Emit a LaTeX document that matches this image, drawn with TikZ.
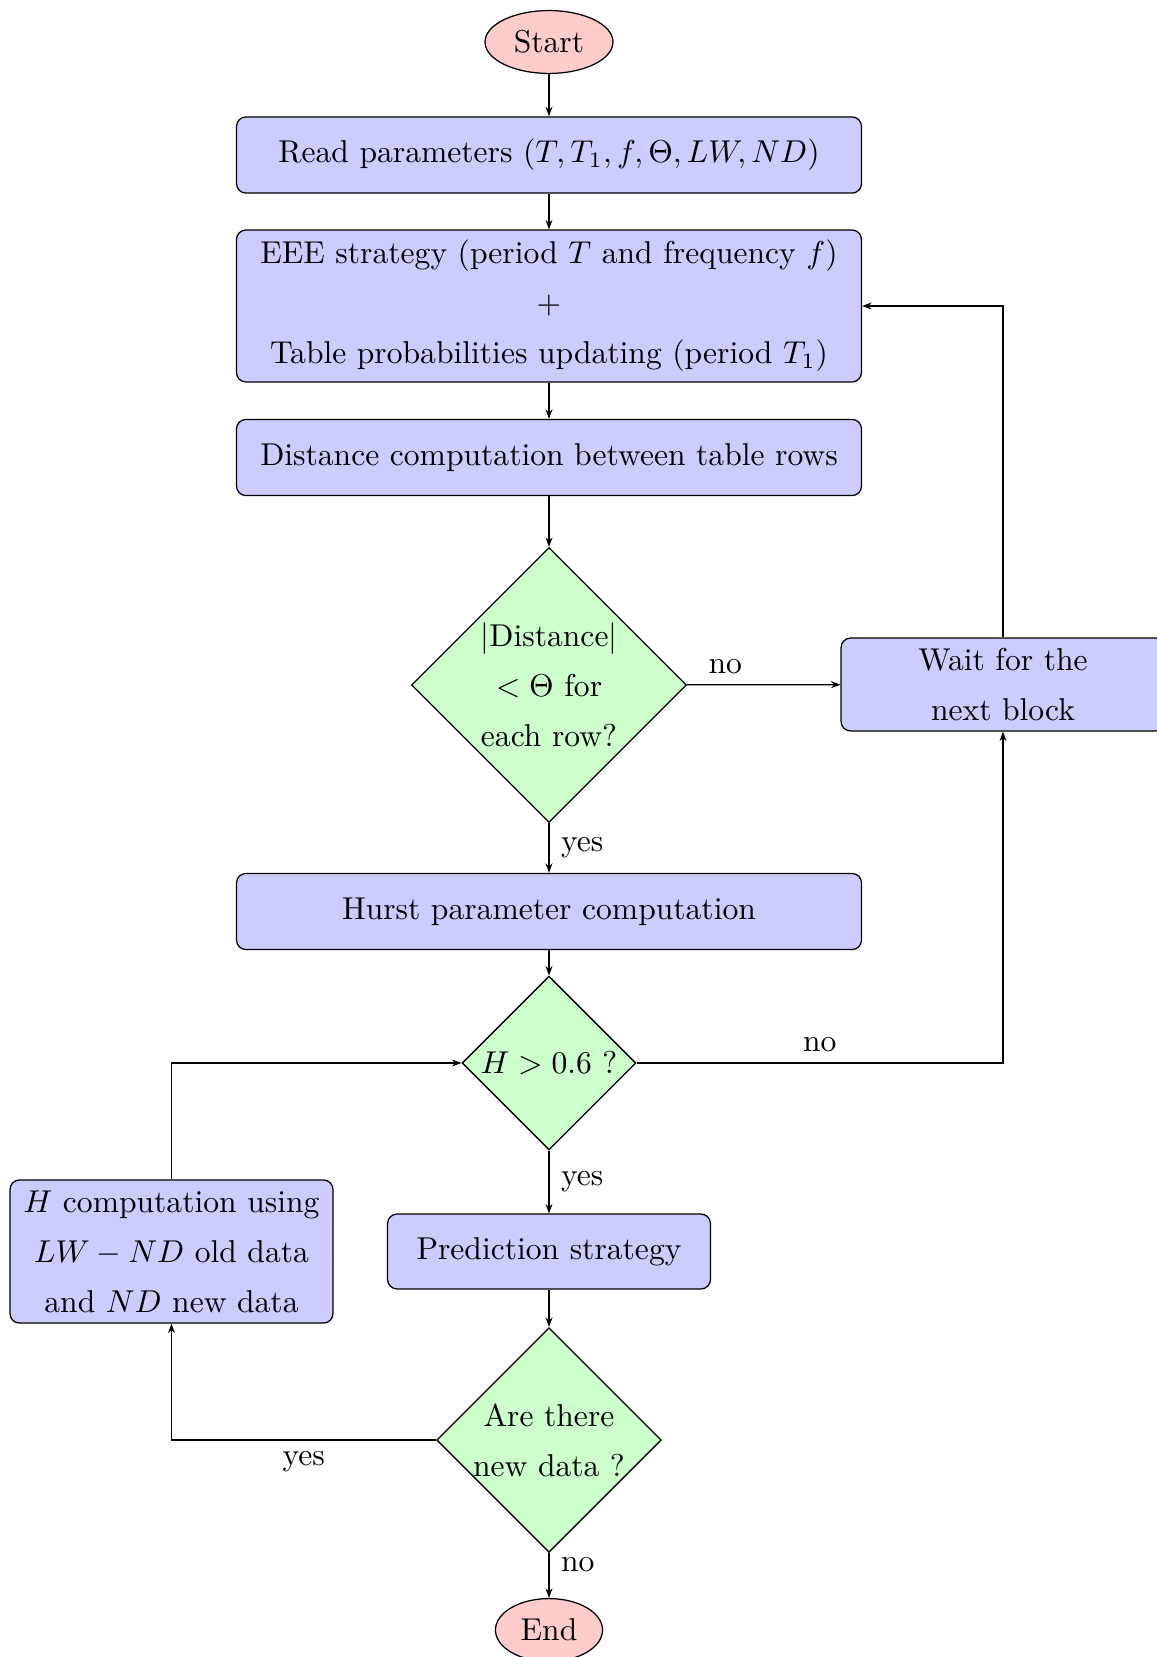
\documentclass[tikz,border=0pt]{standalone}
\usetikzlibrary{shapes.geometric,arrows.meta}
\begin{document}
\begin{tikzpicture}[x=0.3165pt,y=-0.3165pt, font=\fontsize{10}{15.8}\selectfont,
  startstop/.style={ellipse, draw, fill=red!20, minimum width=40.5pt, minimum height=19.9pt, inner sep=0pt},
  process/.style={rectangle, rounded corners=3pt, draw, fill=blue!20, align=center, inner sep=0pt},
  decision/.style={diamond, draw, fill=green!20, align=center, inner sep=0pt, aspect=1},
  arr/.style={-{Stealth[length=3pt,width=2.2pt]}},
]
\useasboundingbox (0,0) rectangle (1157,1657);
\clip (0,0) rectangle (1157,1657);
\node[startstop] (start) at (549,42) {Start};
\node[process, minimum width=197.8pt, minimum height=24.1pt] (read) at (549,155) {Read parameters $(T,T_1,f,\Theta,LW,ND)$};
\node[process, minimum width=197.8pt, minimum height=48.1pt] (eee) at (549,306) {EEE strategy (period $T$ and frequency $f$)\\ $+$ \\ Table probabilities updating (period $T_1$)};
\node[process, minimum width=197.8pt, minimum height=24.1pt] (dist) at (549,457.5) {Distance computation between table rows};
\node[decision, minimum width=87pt, minimum height=87pt] (d1) at (549,685) {$|$Distance$|$\\ $<\Theta$ for\\ each row?};
\node[process, minimum width=102.5pt, minimum height=29.4pt] (wait) at (1003,684.5) {Wait for the\\ next block};
\node[process, minimum width=197.8pt, minimum height=24.1pt] (hurst) at (549,911.5) {Hurst parameter computation};
\node[decision, minimum width=55pt, minimum height=55pt] (d2) at (549,1063) {$H>0.6$ ?};
\node[process, minimum width=102.2pt, minimum height=45.3pt] (hcomp) at (171.5,1251.5) {$H$ computation using\\ $LW-ND$ old data\\ and $ND$ new data};
\node[process, minimum width=102.2pt, minimum height=23.7pt] (pred) at (549,1251.5) {Prediction strategy};
\node[decision, minimum width=70.9pt, minimum height=70.9pt] (d3) at (549,1440) {Are there\\ new data ?};
\node[startstop, minimum width=33.9pt] (end) at (549,1630) {End};

\draw[arr] (start) -- (read);
\draw[arr] (read) -- (eee);
\draw[arr] (eee) -- (dist);
\draw[arr] (dist) -- (d1);
\draw[arr] (d1) -- node[right=0.3pt, pos=0.5] {yes} (hurst);
\draw[arr] (hurst) -- (d2);
\draw[arr] (d2) -- node[right=0.3pt, pos=0.5] {yes} (pred);
\draw[arr] (pred) -- (d3);
\draw[arr] (d3) -- node[right=0.3pt, pos=0.25] {no} (end);
\draw[arr] (d1) -- node[pos=0.25, above] {no} (wait);
\draw[arr] (wait.north) |- (eee.east);
\draw[arr] (d2.east) -| node[pos=0.25, above] {no} (wait.south);
\draw[arr] (d3.west) -| node[pos=0.25, below] {yes} (hcomp.south);
\draw[arr] (hcomp.north) |- (d2.west);
\end{tikzpicture}
\end{document}
